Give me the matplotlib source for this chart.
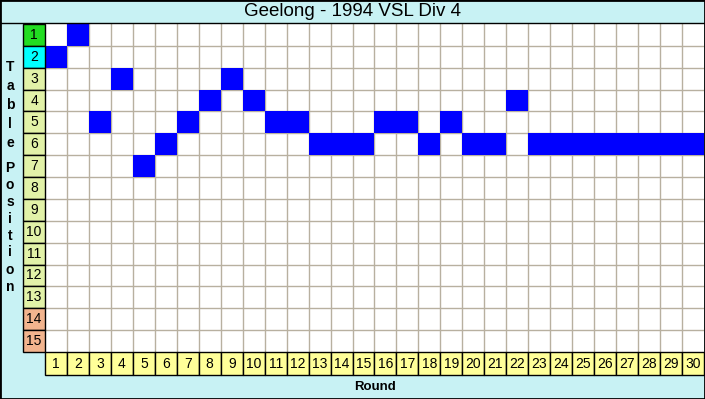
import matplotlib
matplotlib.use('Agg')
import matplotlib.pyplot as plt
from matplotlib.lines import Line2D
from matplotlib.patches import Rectangle

plt.rcParams['font.family'] = ['Liberation Sans', 'DejaVu Sans']

W, H = 705, 399

title = 'Geelong - 1994 VSL Div 4'
rounds = list(range(1, 31))
positions = [2, 1, 5, 3, 7, 6, 5, 4, 3, 4,
             5, 5, 6, 6, 6, 5, 5, 6, 5, 6,
             6, 4, 6, 6, 6, 6, 6, 6, 6, 6]
table_rows = list(range(1, 16))
row_colors = ['#22dd22', '#00ffff'] + ['#e2f2a8'] * 11 + ['#f2b48e'] * 2

bg = '#c8f2f4'
fig = plt.figure(figsize=(W / 100, H / 100), dpi=100, facecolor=bg)

# grid area in pixel coords
x0, x1, y0, y1 = 45, 704, 24, 352
ax = fig.add_axes([x0 / W, 1 - y1 / H, (x1 - x0) / W, (y1 - y0) / H])
ax.set_facecolor('white')
ax.set_xlim(0.5, 30.5)
ax.set_ylim(15.5, 0.5)

ax.bar(rounds, [1] * len(rounds), bottom=[p - 0.5 for p in positions],
       width=1, color='#0000ff', edgecolor='none', zorder=3)

for i in range(1, 30):
    ax.axvline(i + 0.5, color='#b8b0a0', lw=1, zorder=1)
for j in range(1, 15):
    ax.axhline(j + 0.5, color='#b8b0a0', lw=1, zorder=1)

ax.set_xticks([])
ax.set_yticks([])
for s in ax.spines.values():
    s.set_visible(False)

# position label column
for r, c in zip(table_rows, row_colors):
    ax.add_patch(Rectangle((-0.5, r - 0.5), 1, 1, facecolor=c, edgecolor='black',
                           lw=1, clip_on=False, zorder=4))
    ax.text(0, r, str(r), ha='center', va='center', fontsize=10, clip_on=False, zorder=5)

# round label row
for rd in rounds:
    ax.add_patch(Rectangle((rd - 0.5, 15.5), 1, 1.05, facecolor='#ffff99', edgecolor='black',
                           lw=1, clip_on=False, zorder=4))
    ax.text(rd, 16.03, str(rd), ha='center', va='center', fontsize=10, clip_on=False, zorder=5)

# title bar
fig.text(0.5, 1 - 11 / H, title, ha='center', va='center', fontsize=13.5)
fig.add_artist(Line2D([0, 1], [1 - 22.5 / H, 1 - 22.5 / H], color='black', lw=1))

# axis titles
fig.text((x0 + x1) / 2 / W, 1 - 387 / H, 'Round', ha='center', va='center',
         fontsize=9.5, fontweight='bold')
letter_y = [67, 86, 105, 124, 143, 168, 185, 202, 219, 236, 252, 270, 287]
for ch, yy in zip('TablePosition', letter_y):
    fig.text(10 / W, 1 - yy / H, ch, ha='center', va='center', fontsize=10, fontweight='bold')

fig.add_artist(Rectangle((0, 0), 1, 1, transform=fig.transFigure, fill=False,
                         edgecolor='black', lw=2))

fig.savefig('out.png', dpi=100, facecolor=bg)
